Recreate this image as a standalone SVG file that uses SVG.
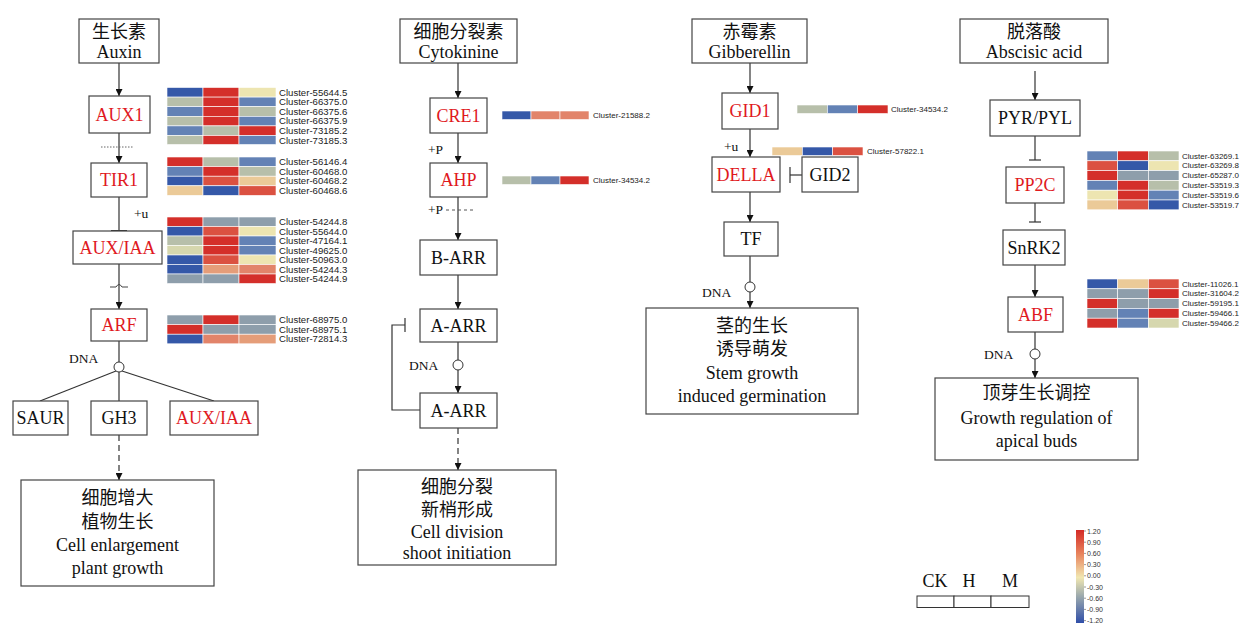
<svg xmlns="http://www.w3.org/2000/svg" width="1242" height="623" viewBox="0 0 1242 623">
<defs>
<marker id="ar" viewBox="0 0 10 10" refX="10" refY="5" markerWidth="7" markerHeight="7" orient="auto" markerUnits="userSpaceOnUse"><path d="M0,0 L10,5 L0,10 z" fill="#111"/></marker>
<linearGradient id="cb" x1="0" y1="0" x2="0" y2="1">
<stop offset="0" stop-color="#d42a26"/><stop offset="0.25" stop-color="#e8835c"/><stop offset="0.5" stop-color="#f1e7b1"/><stop offset="0.7" stop-color="#9aa8ad"/><stop offset="1" stop-color="#2747a8"/>
</linearGradient>
<style>
.bx{fill:#fff;stroke:#444;stroke-width:1.2}
.t{font-family:"Liberation Serif","Noto Sans CJK SC",serif;font-size:18px;fill:#111;text-anchor:middle}
.rt{fill:#e0191e}
.sm{font-family:"Liberation Serif",serif;font-size:13.5px;fill:#111}
.cl{font-family:"Liberation Sans",Arial,sans-serif;font-size:9.6px;fill:#222}
.cs{font-family:"Liberation Sans",Arial,sans-serif;font-size:8px;fill:#222}
.ln{stroke:#333;stroke-width:1.2;fill:none}
.hm rect{stroke:#fff;stroke-width:0.6}
.r{fill:#d42f2a}.r2{fill:#db5141}.s{fill:#e2846a}.s2{fill:#e59d79}.p{fill:#ebca98}.y{fill:#ede5b1}.yg{fill:#d6d7ae}.g{fill:#b7bfaa}.gb{fill:#8e9eab}.sb{fill:#6382b5}.b{fill:#3558a8}
</style>
</defs>
<rect width="1242" height="623" fill="#fff"/>

<g id="connectors">
<line class="ln" x1="119" y1="63" x2="119" y2="96" marker-end="url(#ar)"/>
<line class="ln" x1="119" y1="133" x2="119" y2="163" marker-end="url(#ar)"/>
<line x1="101" y1="147" x2="134" y2="147" stroke="#666" stroke-width="1" stroke-dasharray="1.5,1.5"/>
<line class="ln" x1="119" y1="197" x2="119" y2="231"/>
<line x1="111" y1="231" x2="127" y2="231" stroke="#333" stroke-width="2"/>
<line class="ln" x1="119" y1="264" x2="119" y2="309" marker-end="url(#ar)"/>
<path d="M110,287 L116,287 Q119,282 122,287 L128,287" stroke="#444" stroke-width="1" fill="none"/>
<line class="ln" x1="119" y1="341" x2="119" y2="362"/>
<line class="ln" x1="116" y1="371" x2="40" y2="401"/>
<line class="ln" x1="119" y1="372" x2="119" y2="401"/>
<line class="ln" x1="122" y1="371" x2="214" y2="401"/>
<line class="ln" x1="119" y1="435" x2="119" y2="480" stroke-dasharray="6,4" marker-end="url(#ar)"/>
<line class="ln" x1="458" y1="63" x2="458" y2="98" marker-end="url(#ar)"/>
<line class="ln" x1="458" y1="133" x2="458" y2="163" marker-end="url(#ar)"/>
<line class="ln" x1="458" y1="197" x2="458" y2="240" marker-end="url(#ar)"/>
<line x1="446" y1="210" x2="474" y2="210" stroke="#555" stroke-width="1" stroke-dasharray="3,3"/>
<line class="ln" x1="458" y1="275" x2="458" y2="309" marker-end="url(#ar)"/>
<line class="ln" x1="458" y1="342" x2="458" y2="360"/>
<line class="ln" x1="458" y1="370" x2="458" y2="393" marker-end="url(#ar)"/>
<polyline class="ln" points="420,410 392,410 392,325 405,325"/>
<line x1="405" y1="318" x2="405" y2="332" stroke="#333" stroke-width="1.2"/>
<line class="ln" x1="458" y1="428" x2="458" y2="470" stroke-dasharray="6,4" marker-end="url(#ar)"/>
<line class="ln" x1="750" y1="63" x2="750" y2="93" marker-end="url(#ar)"/>
<line class="ln" x1="750" y1="129" x2="750" y2="157" marker-end="url(#ar)"/>
<line class="ln" x1="802" y1="175" x2="790" y2="175"/>
<line x1="790" y1="167" x2="790" y2="183" stroke="#333" stroke-width="1.2"/>
<line class="ln" x1="750" y1="192" x2="750" y2="222" marker-end="url(#ar)"/>
<line class="ln" x1="750" y1="256" x2="750" y2="282"/>
<line class="ln" x1="750" y1="292" x2="750" y2="308" marker-end="url(#ar)"/>
<line class="ln" x1="1035" y1="71" x2="1035" y2="100" marker-end="url(#ar)"/>
<line class="ln" x1="1035" y1="136" x2="1035" y2="160"/>
<line x1="1029" y1="160" x2="1041" y2="160" stroke="#333" stroke-width="1.2"/>
<line class="ln" x1="1035" y1="203" x2="1035" y2="222"/>
<line x1="1029" y1="222" x2="1041" y2="222" stroke="#333" stroke-width="1.2"/>
<line class="ln" x1="1035" y1="265" x2="1035" y2="297" marker-end="url(#ar)"/>
<line class="ln" x1="1035" y1="332" x2="1035" y2="349"/>
<line class="ln" x1="1035" y1="359" x2="1035" y2="378" marker-end="url(#ar)"/>
</g>

<g id="dna-nodes" fill="#fff" stroke="#333" stroke-width="1">
<circle cx="119" cy="367" r="5"/>
<circle cx="458" cy="365" r="5"/>
<circle cx="750" cy="287" r="5"/>
<circle cx="1035" cy="354" r="5"/>
</g>

<g id="small-labels" class="sm">
<text x="134" y="218">+u</text>
<text x="69" y="363">DNA</text>
<text x="428" y="154">+P</text>
<text x="428" y="214">+P</text>
<text x="409" y="370">DNA</text>
<text x="724" y="151">+u</text>
<text x="702" y="297">DNA</text>
<text x="984" y="359">DNA</text>
</g>

<g id="auxin"><rect class="bx" x="79" y="19" width="80" height="44"/><text class="t" x="119" y="38">生长素</text><text class="t" x="119" y="58">Auxin</text></g>
<g id="aux1"><rect class="bx" x="89" y="96" width="61" height="37"/><text class="t rt" x="119.5" y="121">AUX1</text></g>
<g id="tir1"><rect class="bx" x="91" y="163" width="56" height="34"/><text class="t rt" x="119" y="186">TIR1</text></g>
<g id="auxiaa"><rect class="bx" x="73" y="231" width="89" height="33"/><text class="t rt" x="117.5" y="254">AUX/IAA</text></g>
<g id="arf"><rect class="bx" x="91" y="309" width="56" height="32"/><text class="t rt" x="119" y="331">ARF</text></g>
<g id="saur"><rect class="bx" x="13" y="401" width="55" height="34"/><text class="t" x="40.5" y="424">SAUR</text></g>
<g id="gh3"><rect class="bx" x="91" y="401" width="56" height="34"/><text class="t" x="119" y="424">GH3</text></g>
<g id="auxiaa2"><rect class="bx" x="170" y="401" width="88" height="34"/><text class="t rt" x="214" y="424">AUX/IAA</text></g>
<g id="aux-out"><rect class="bx" x="21" y="480" width="193" height="106"/><text class="t" x="117.5" y="504">细胞增大</text><text class="t" x="117.5" y="528">植物生长</text><text class="t" x="117.5" y="551">Cell enlargement</text><text class="t" x="117.5" y="574">plant growth</text></g>

<g id="cyto"><rect class="bx" x="400" y="19" width="117" height="44"/><text class="t" x="458.5" y="38">细胞分裂素</text><text class="t" x="458.5" y="58">Cytokinine</text></g>
<g id="cre1"><rect class="bx" x="430" y="98" width="57" height="35"/><text class="t rt" x="458.5" y="122">CRE1</text></g>
<g id="ahp"><rect class="bx" x="430" y="163" width="57" height="34"/><text class="t rt" x="458.5" y="186">AHP</text></g>
<g id="barr"><rect class="bx" x="420" y="240" width="77" height="35"/><text class="t" x="458.5" y="264">B-ARR</text></g>
<g id="aarr1"><rect class="bx" x="420" y="309" width="77" height="33"/><text class="t" x="458.5" y="332">A-ARR</text></g>
<g id="aarr2"><rect class="bx" x="420" y="393" width="77" height="35"/><text class="t" x="458.5" y="417">A-ARR</text></g>
<g id="cyto-out"><rect class="bx" x="358" y="470" width="198" height="95"/><text class="t" x="457" y="493">细胞分裂</text><text class="t" x="457" y="516">新梢形成</text><text class="t" x="457" y="538">Cell division</text><text class="t" x="457" y="559">shoot initiation</text></g>

<g id="ga"><rect class="bx" x="692" y="19" width="115" height="44"/><text class="t" x="749.5" y="38">赤霉素</text><text class="t" x="749.5" y="58">Gibberellin</text></g>
<g id="gid1"><rect class="bx" x="722" y="93" width="56" height="36"/><text class="t rt" x="750" y="117">GID1</text></g>
<g id="della"><rect class="bx" x="712" y="157" width="68" height="35"/><text class="t rt" x="746" y="181">DELLA</text></g>
<g id="gid2"><rect class="bx" x="802" y="157" width="56" height="35"/><text class="t" x="830" y="181">GID2</text></g>
<g id="tf"><rect class="bx" x="724" y="222" width="54" height="34"/><text class="t" x="751" y="245">TF</text></g>
<g id="ga-out"><rect class="bx" x="646" y="308" width="212" height="106"/><text class="t" x="752" y="332">茎的生长</text><text class="t" x="752" y="355">诱导萌发</text><text class="t" x="752" y="379">Stem growth</text><text class="t" x="752" y="402">induced germination</text></g>

<g id="aba"><rect class="bx" x="960" y="19" width="148" height="44"/><text class="t" x="1034" y="38">脱落酸</text><text class="t" x="1034" y="58">Abscisic acid</text></g>
<g id="pyr"><rect class="bx" x="990" y="100" width="90" height="36"/><text class="t" x="1035" y="124">PYR/PYL</text></g>
<g id="pp2c"><rect class="bx" x="1006" y="167" width="58" height="36"/><text class="t rt" x="1035" y="191">PP2C</text></g>
<g id="snrk2"><rect class="bx" x="1003" y="230" width="62" height="35"/><text class="t" x="1034" y="254">SnRK2</text></g>
<g id="abf"><rect class="bx" x="1008" y="297" width="55" height="35"/><text class="t rt" x="1035.5" y="321">ABF</text></g>
<g id="aba-out"><rect class="bx" x="935" y="378" width="203" height="82"/><text class="t" x="1036.5" y="399">顶芽生长调控</text><text class="t" x="1036.5" y="424">Growth regulation of</text><text class="t" x="1036.5" y="447">apical buds</text></g>

<g id="hm-aux1" class="hm">
<rect class="b" x="167" y="87.5" width="36" height="9.6"/><rect class="r" x="203" y="87.5" width="36" height="9.6"/><rect class="y" x="239" y="87.5" width="37" height="9.6"/>
<rect class="g" x="167" y="97.1" width="36" height="9.6"/><rect class="r" x="203" y="97.1" width="36" height="9.6"/><rect class="sb" x="239" y="97.1" width="37" height="9.6"/>
<rect class="sb" x="167" y="106.7" width="36" height="9.6"/><rect class="r" x="203" y="106.7" width="36" height="9.6"/><rect class="g" x="239" y="106.7" width="37" height="9.6"/>
<rect class="g" x="167" y="116.3" width="36" height="9.6"/><rect class="r" x="203" y="116.3" width="36" height="9.6"/><rect class="sb" x="239" y="116.3" width="37" height="9.6"/>
<rect class="sb" x="167" y="125.9" width="36" height="9.6"/><rect class="g" x="203" y="125.9" width="36" height="9.6"/><rect class="r" x="239" y="125.9" width="37" height="9.6"/>
<rect class="g" x="167" y="135.5" width="36" height="9"/><rect class="r" x="203" y="135.5" width="36" height="9"/><rect class="sb" x="239" y="135.5" width="37" height="9"/>
</g>
<g id="lab-aux1" class="cl">
<text x="279" y="95.5">Cluster-55644.5</text><text x="279" y="105.1">Cluster-66375.0</text><text x="279" y="114.7">Cluster-66375.6</text><text x="279" y="124.3">Cluster-66375.9</text><text x="279" y="133.9">Cluster-73185.2</text><text x="279" y="143.5">Cluster-73185.3</text>
</g>
<g id="hm-tir1" class="hm">
<rect class="r" x="167" y="157" width="36" height="9.6"/><rect class="g" x="203" y="157" width="36" height="9.6"/><rect class="sb" x="239" y="157" width="37" height="9.6"/>
<rect class="sb" x="167" y="166.6" width="36" height="9.6"/><rect class="r" x="203" y="166.6" width="36" height="9.6"/><rect class="g" x="239" y="166.6" width="37" height="9.6"/>
<rect class="b" x="167" y="176.2" width="36" height="9.6"/><rect class="r2" x="203" y="176.2" width="36" height="9.6"/><rect class="p" x="239" y="176.2" width="37" height="9.6"/>
<rect class="p" x="167" y="185.8" width="36" height="9.6"/><rect class="b" x="203" y="185.8" width="36" height="9.6"/><rect class="r2" x="239" y="185.8" width="37" height="9.6"/>
</g>
<g id="lab-tir1" class="cl">
<text x="279" y="165">Cluster-56146.4</text><text x="279" y="174.6">Cluster-60468.0</text><text x="279" y="184.2">Cluster-60468.2</text><text x="279" y="193.8">Cluster-60468.6</text>
</g>
<g id="hm-auxiaa" class="hm">
<rect class="r" x="167" y="217" width="36" height="9.5"/><rect class="gb" x="203" y="217" width="36" height="9.5"/><rect class="gb" x="239" y="217" width="37" height="9.5"/>
<rect class="b" x="167" y="226.5" width="36" height="9.5"/><rect class="r2" x="203" y="226.5" width="36" height="9.5"/><rect class="y" x="239" y="226.5" width="37" height="9.5"/>
<rect class="g" x="167" y="236" width="36" height="9.5"/><rect class="r" x="203" y="236" width="36" height="9.5"/><rect class="sb" x="239" y="236" width="37" height="9.5"/>
<rect class="yg" x="167" y="245.5" width="36" height="9.5"/><rect class="r" x="203" y="245.5" width="36" height="9.5"/><rect class="sb" x="239" y="245.5" width="37" height="9.5"/>
<rect class="b" x="167" y="255" width="36" height="9.5"/><rect class="r2" x="203" y="255" width="36" height="9.5"/><rect class="y" x="239" y="255" width="37" height="9.5"/>
<rect class="b" x="167" y="264.5" width="36" height="9.5"/><rect class="s2" x="203" y="264.5" width="36" height="9.5"/><rect class="s" x="239" y="264.5" width="37" height="9.5"/>
<rect class="gb" x="167" y="274" width="36" height="9.5"/><rect class="gb" x="203" y="274" width="36" height="9.5"/><rect class="r" x="239" y="274" width="37" height="9.5"/>
</g>
<g id="lab-auxiaa" class="cl">
<text x="279" y="225">Cluster-54244.8</text><text x="279" y="234.5">Cluster-55644.0</text><text x="279" y="244">Cluster-47164.1</text><text x="279" y="253.5">Cluster-49625.0</text><text x="279" y="263">Cluster-50963.0</text><text x="279" y="272.5">Cluster-54244.3</text><text x="279" y="282">Cluster-54244.9</text>
</g>
<g id="hm-arf" class="hm">
<rect class="gb" x="167" y="315" width="36" height="9.6"/><rect class="r" x="203" y="315" width="36" height="9.6"/><rect class="gb" x="239" y="315" width="37" height="9.6"/>
<rect class="r" x="167" y="324.6" width="36" height="9.6"/><rect class="gb" x="203" y="324.6" width="36" height="9.6"/><rect class="gb" x="239" y="324.6" width="37" height="9.6"/>
<rect class="b" x="167" y="334.2" width="36" height="9.6"/><rect class="s" x="203" y="334.2" width="36" height="9.6"/><rect class="s2" x="239" y="334.2" width="37" height="9.6"/>
</g>
<g id="lab-arf" class="cl">
<text x="279" y="323">Cluster-68975.0</text><text x="279" y="332.6">Cluster-68975.1</text><text x="279" y="342.2">Cluster-72814.3</text>
</g>

<g id="hm-cre1" class="hm"><rect class="b" x="502" y="111" width="29" height="8.5"/><rect class="s" x="531" y="111" width="29" height="8.5"/><rect class="s" x="560" y="111" width="29" height="8.5"/></g>
<text class="cs" x="593" y="118">Cluster-21588.2</text>
<g id="hm-ahp" class="hm"><rect class="g" x="502" y="176" width="29" height="8.5"/><rect class="sb" x="531" y="176" width="29" height="8.5"/><rect class="r" x="560" y="176" width="29" height="8.5"/></g>
<text class="cs" x="593" y="183">Cluster-34534.2</text>
<g id="hm-gid1" class="hm"><rect class="g" x="797" y="105" width="30.3" height="8.5"/><rect class="sb" x="827.3" y="105" width="30.3" height="8.5"/><rect class="r" x="857.6" y="105" width="30.4" height="8.5"/></g>
<text class="cs" x="891" y="112">Cluster-34534.2</text>
<g id="hm-della" class="hm"><rect class="p" x="772" y="147" width="30.3" height="8.5"/><rect class="b" x="802.3" y="147" width="30.3" height="8.5"/><rect class="r2" x="832.6" y="147" width="30.4" height="8.5"/></g>
<text class="cs" x="867" y="154">Cluster-57822.1</text>

<g id="hm-pp2c" class="hm">
<rect class="sb" x="1087" y="151" width="30.7" height="9.8"/><rect class="r" x="1117.7" y="151" width="30.7" height="9.8"/><rect class="g" x="1148.4" y="151" width="30.6" height="9.8"/>
<rect class="r2" x="1087" y="160.8" width="30.7" height="9.8"/><rect class="b" x="1117.7" y="160.8" width="30.7" height="9.8"/><rect class="y" x="1148.4" y="160.8" width="30.6" height="9.8"/>
<rect class="r" x="1087" y="170.6" width="30.7" height="9.8"/><rect class="gb" x="1117.7" y="170.6" width="30.7" height="9.8"/><rect class="gb" x="1148.4" y="170.6" width="30.6" height="9.8"/>
<rect class="sb" x="1087" y="180.4" width="30.7" height="9.8"/><rect class="r" x="1117.7" y="180.4" width="30.7" height="9.8"/><rect class="g" x="1148.4" y="180.4" width="30.6" height="9.8"/>
<rect class="y" x="1087" y="190.2" width="30.7" height="9.8"/><rect class="r" x="1117.7" y="190.2" width="30.7" height="9.8"/><rect class="sb" x="1148.4" y="190.2" width="30.6" height="9.8"/>
<rect class="p" x="1087" y="200" width="30.7" height="9.8"/><rect class="r2" x="1117.7" y="200" width="30.7" height="9.8"/><rect class="b" x="1148.4" y="200" width="30.6" height="9.8"/>
</g>
<g id="lab-pp2c" class="cs">
<text x="1182" y="158.6">Cluster-63269.1</text><text x="1182" y="168.4">Cluster-63269.8</text><text x="1182" y="178.2">Cluster-65287.0</text><text x="1182" y="188">Cluster-53519.3</text><text x="1182" y="197.8">Cluster-53519.6</text><text x="1182" y="207.6">Cluster-53519.7</text>
</g>
<g id="hm-abf" class="hm">
<rect class="b" x="1087" y="279" width="30.7" height="9.8"/><rect class="p" x="1117.7" y="279" width="30.7" height="9.8"/><rect class="r2" x="1148.4" y="279" width="30.6" height="9.8"/>
<rect class="gb" x="1087" y="288.8" width="30.7" height="9.8"/><rect class="gb" x="1117.7" y="288.8" width="30.7" height="9.8"/><rect class="r" x="1148.4" y="288.8" width="30.6" height="9.8"/>
<rect class="r" x="1087" y="298.6" width="30.7" height="9.8"/><rect class="gb" x="1117.7" y="298.6" width="30.7" height="9.8"/><rect class="gb" x="1148.4" y="298.6" width="30.6" height="9.8"/>
<rect class="gb" x="1087" y="308.4" width="30.7" height="9.8"/><rect class="sb" x="1117.7" y="308.4" width="30.7" height="9.8"/><rect class="r" x="1148.4" y="308.4" width="30.6" height="9.8"/>
<rect class="r" x="1087" y="318.2" width="30.7" height="9.8"/><rect class="sb" x="1117.7" y="318.2" width="30.7" height="9.8"/><rect class="yg" x="1148.4" y="318.2" width="30.6" height="9.8"/>
</g>
<g id="lab-abf" class="cs">
<text x="1182" y="286.6">Cluster-11026.1</text><text x="1182" y="296.4">Cluster-31604.2</text><text x="1182" y="306.2">Cluster-59195.1</text><text x="1182" y="316">Cluster-59466.1</text><text x="1182" y="325.8">Cluster-59466.2</text>
</g>

<g id="legend-samples">
<text class="t" x="935" y="587">CK</text><text class="t" x="969" y="587">H</text><text class="t" x="1010" y="587">M</text>
<rect x="917" y="596" width="37" height="11.5" fill="#fff" stroke="#333" stroke-width="1"/>
<rect x="954" y="596" width="37" height="11.5" fill="#fff" stroke="#333" stroke-width="1"/>
<rect x="991" y="596" width="38" height="11.5" fill="#fff" stroke="#333" stroke-width="1"/>
</g>
<g id="colorbar">
<rect x="1076" y="530" width="8" height="95" fill="url(#cb)"/>
<g stroke="#555" stroke-width="0.6">
<line x1="1084" y1="531" x2="1086" y2="531"/><line x1="1084" y1="542.2" x2="1086" y2="542.2"/><line x1="1084" y1="553.4" x2="1086" y2="553.4"/><line x1="1084" y1="564.6" x2="1086" y2="564.6"/><line x1="1084" y1="575.8" x2="1086" y2="575.8"/><line x1="1084" y1="587" x2="1086" y2="587"/><line x1="1084" y1="598.2" x2="1086" y2="598.2"/><line x1="1084" y1="609.4" x2="1086" y2="609.4"/><line x1="1084" y1="620.6" x2="1086" y2="620.6"/>
</g>
<g font-family="Liberation Sans, Arial, sans-serif" font-size="7" fill="#333">
<text x="1087" y="533.5">1.20</text><text x="1087" y="544.7">0.90</text><text x="1087" y="555.9">0.60</text><text x="1087" y="567.1">0.30</text><text x="1087" y="578.3">0.00</text><text x="1087" y="589.5">-0.30</text><text x="1087" y="600.7">-0.60</text><text x="1087" y="611.9">-0.90</text><text x="1087" y="623.1">-1.20</text>
</g>
</g>
</svg>
